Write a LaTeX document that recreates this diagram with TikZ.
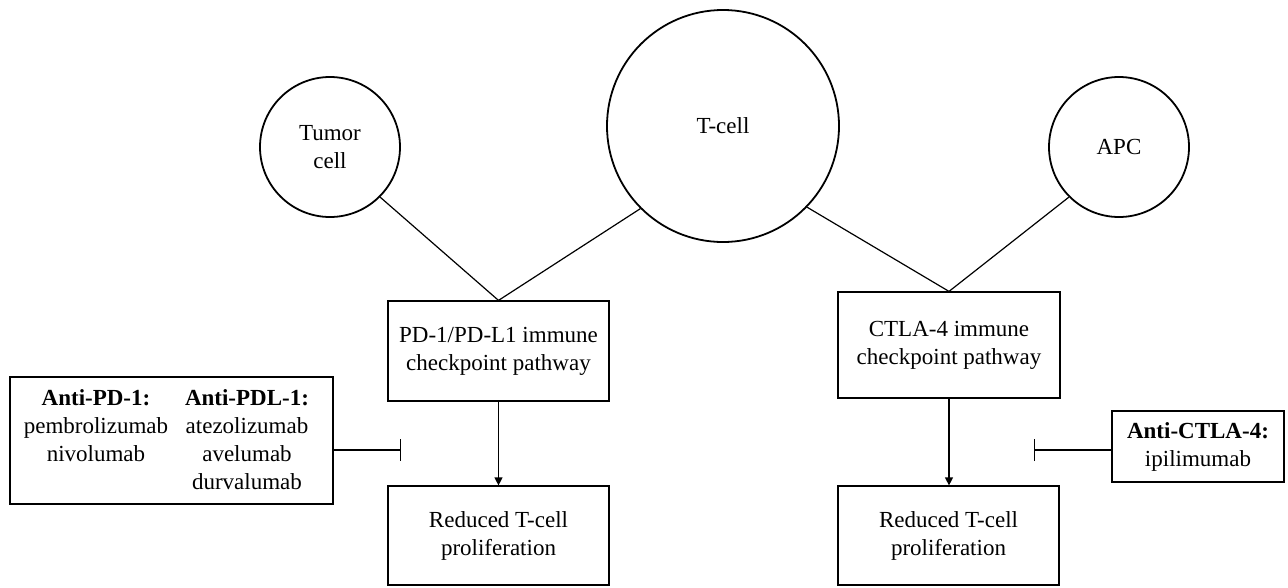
\documentclass[tikz,border=0pt]{standalone}
\usepackage{fontspec}
\setmainfont{Liberation Serif}
\usetikzlibrary{arrows.meta}

\begin{document}
\begin{tikzpicture}[x=1pt,y=-1pt,
  txt/.style={font=\fontsize{23}{28}\selectfont, align=center},
  cell/.style={txt, circle, draw, line width=1.8pt, inner sep=0pt},
  stepbox/.style={txt, rectangle, draw, line width=1.2pt, inner sep=0pt},
  link/.style={line width=1.2pt},
  flow/.style={line width=1.2pt, -{Triangle[length=8pt,width=8pt]}},
  block/.style={line width=1.2pt, -{Bar[width=22pt,line width=1.4pt]}}
]
\useasboundingbox (0,0) rectangle (1288,587);

% cells
\node[cell, minimum size=140pt] (tumor) at (330,147) {Tumor\\cell};
\node[cell, minimum size=232pt] (tcell) at (723,126) {T-cell};
\node[cell, minimum size=140pt] (apc) at (1119,147) {APC};

% checkpoint pathways
\node[stepbox, minimum width=221pt, minimum height=100pt] (pd) at (498.5,351)
  {PD-1/PD-L1 immune\\checkpoint pathway};
\node[stepbox, minimum width=222pt, minimum height=106pt] (ctla) at (949,345)
  {CTLA-4 immune\\checkpoint pathway};

% outcomes
\node[stepbox, minimum width=221pt, minimum height=99pt] (pdout) at (498.5,535.5)
  {Reduced T-cell\\proliferation};
\node[stepbox, minimum width=221pt, minimum height=99pt] (ctlaout) at (948.5,535.5)
  {Reduced T-cell\\proliferation};

% inhibitors
\node[stepbox, minimum width=323pt, minimum height=127pt] (antipd) at (171.5,440.5) {};
\node[txt, inner sep=0pt] (antipd1) at (96,426) {\textbf{Anti-PD-1:}\\pembrolizumab\\nivolumab};
\node[txt, inner sep=0pt] (antipdl1) at (247,440) {\textbf{Anti-PDL-1:}\\atezolizumab\\avelumab\\durvalumab};
\node[stepbox, minimum width=172pt, minimum height=71pt] (antictla) at (1198,446.5)
  {\textbf{Anti-CTLA-4:}\\ipilimumab};

% free ends of the blocking lines
\coordinate (pdblock) at (401,450);
\coordinate (ctlablock) at (1034,450);

% connectors
\draw[link] (tumor.315) -- (pd.north);
\draw[link] (tcell.225) -- (pd.north);
\draw[link] (tcell.316) -- (ctla.north);
\draw[link] (apc.225) -- (ctla.north);

\draw[flow] (pd.south) -- (pdout.north);
\draw[flow] (ctla.south) -- (ctla.south |- ctlaout.north);

\draw[block] (antipd.east |- pdblock) -- (pdblock);
\draw[block] (antictla.west |- ctlablock) -- (ctlablock);
\end{tikzpicture}
\end{document}
